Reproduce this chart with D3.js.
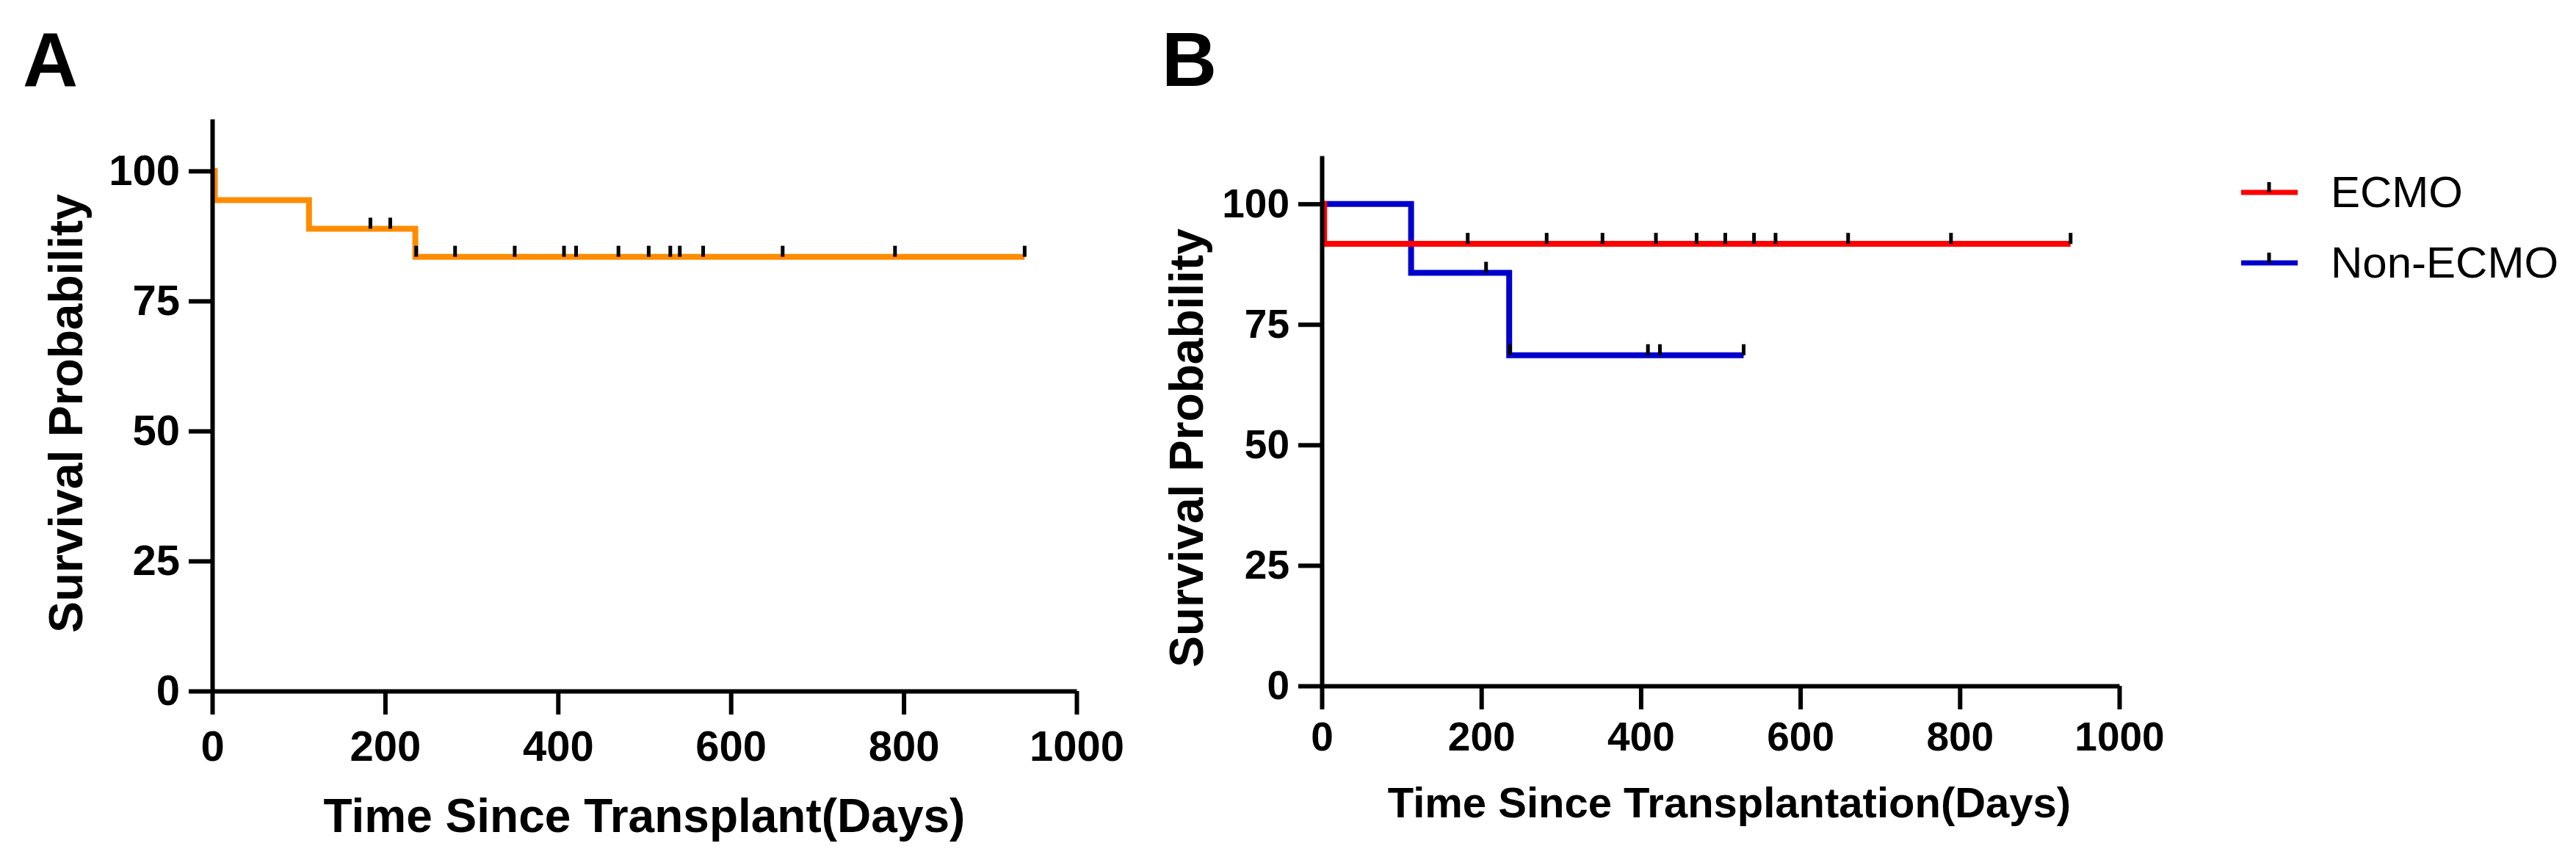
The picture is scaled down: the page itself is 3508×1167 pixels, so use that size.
<!DOCTYPE html>
<html>
<head>
<meta charset="utf-8">
<script src="https://cdn.jsdelivr.net/npm/d3@7"></script>
<style>
  body { margin: 0; background: #fff; }
  svg { display: block; }
</style>
</head>
<body>
<script>
// ---- data ----
var xTicks = [0, 200, 400, 600, 800, 1000]
var yTicks = [0, 25, 50, 75, 100]

// panel A: all patients
var timeA = [0, 3, 112, 235, 940]
var survA = [100, 94.4, 88.9, 83.5, 83.5]
var censorA = [183, 206, 236, 281, 350, 407, 421, 470, 505, 530, 541, 568, 660, 790, 940]

// panel B: ECMO vs Non-ECMO
var timeEcmo = [0, 3, 939]
var survEcmo = [100, 91.7, 91.7]
var censorEcmo = [183, 282, 352, 419, 470, 506, 542, 569, 660, 789, 939]

var timeNon = [0, 112, 235, 529]
var survNon = [100, 85.7, 68.6, 68.6]
var censorNon = [206, 236, 409, 424, 529]

var groups = ['ECMO', 'Non-ECMO']
var colors = ['#ff0000', '#0000cc']

var W = 3508, H = 1167
var font = '"Liberation Sans", Arial, sans-serif'

var svg = d3.select('body').append('svg')
    .attr('width', W)
    .attr('height', H)
    .style('background', '#fff')

// survival value at time t (step function)
var survAt = function (times, surv, t) {
    var v = surv[0]
    for (var i = 0; i < times.length; i++) {
        if (times[i] <= t) v = surv[i]
    }
    return v
}

var drawAxes = function (g, x, y, fs, padX) {
    var ax = g.append('g')
        .attr('transform', 'translate(0,' + y(0) + ')')
        .call(d3.axisBottom(x).tickValues(xTicks).tickFormat(d3.format('d'))
            .tickSize(32).tickSizeOuter(0).tickPadding(padX))
    var ay = g.append('g')
        .attr('transform', 'translate(' + x(0) + ',0)')
        .call(d3.axisLeft(y).tickValues(yTicks).tickFormat(d3.format('d'))
            .tickSize(32).tickSizeOuter(0).tickPadding(12))
    ;[ax, ay].forEach(function (a) {
        a.select('.domain').attr('stroke', '#000').attr('stroke-width', 6)
        a.selectAll('.tick line').attr('stroke', '#000').attr('stroke-width', 6)
        a.selectAll('.tick text')
            .attr('fill', '#000')
            .style('font-family', font)
            .style('font-weight', 'bold')
            .style('font-size', fs + 'px')
    })
}

var drawCurve = function (g, x, y, times, surv, censor, color) {
    var pts = times.map(function (t, i) { return [t, surv[i]] })
    var line = d3.line()
        .x(function (d) { return x(d[0]) })
        .y(function (d) { return y(d[1]) })
        .curve(d3.curveStepAfter)
    g.append('path')
        .attr('d', line(pts))
        .attr('fill', 'none')
        .attr('stroke', color)
        .attr('stroke-width', 8)
    g.selectAll(null).data(censor).enter().append('line')
        .attr('x1', function (d) { return x(d) })
        .attr('x2', function (d) { return x(d) })
        .attr('y1', function (d) { return y(survAt(times, surv, d)) - 15 })
        .attr('y2', function (d) { return y(survAt(times, surv, d)) })
        .attr('stroke', '#000')
        .attr('stroke-width', 5)
}

var addText = function (txt, x, y, size, weight, anchor, rot) {
    var t = svg.append('text')
        .text(txt)
        .attr('x', x)
        .attr('y', y)
        .attr('text-anchor', anchor)
        .style('font-family', font)
        .style('font-weight', weight)
        .style('font-size', size + 'px')
        .attr('fill', '#000')
    if (rot) t.attr('transform', 'rotate(-90,' + x + ',' + y + ')')
    return t
}

// ---- panel A ----
var xA = d3.scaleLinear().domain([0, 1000]).range([289, 1466])
var yA = d3.scaleLinear().domain([0, 110]).range([941, 162])
var gA = svg.append('g')
drawCurve(gA, xA, yA, timeA, survA, censorA, '#ff8c00')
drawAxes(gA, xA, yA, 58, 22)

addText('A', 31, 117, 104, 'bold', 'start')
addText('Time Since Transplant(Days)', (xA(0) + xA(1000)) / 2, 1133, 64, 'bold', 'middle')
addText('Survival Probability', 112, 563, 64, 'bold', 'middle', true)

// ---- panel B ----
var xB = d3.scaleLinear().domain([0, 1000]).range([1800, 2886])
var yB = d3.scaleLinear().domain([0, 110]).range([934, 212])
var gB = svg.append('g')
drawCurve(gB, xB, yB, timeNon, survNon, censorNon, colors[1])
drawCurve(gB, xB, yB, timeEcmo, survEcmo, censorEcmo, colors[0])
drawAxes(gB, xB, yB, 55, 17)

addText('B', 1582, 117, 104, 'bold', 'start')
addText('Time Since Transplantation(Days)', 2355, 1113, 58, 'bold', 'middle')
addText('Survival Probability', 1638, 610, 64, 'bold', 'middle', true)

// legend
var legY = [262, 358]
groups.forEach(function (name, i) {
    svg.append('line')
        .attr('x1', 3052).attr('x2', 3129)
        .attr('y1', legY[i]).attr('y2', legY[i])
        .attr('stroke', colors[i])
        .attr('stroke-width', 7)
    svg.append('line')
        .attr('x1', 3090).attr('x2', 3090)
        .attr('y1', legY[i] - 14).attr('y2', legY[i])
        .attr('stroke', '#000')
        .attr('stroke-width', 5)
    addText(name, 3174, legY[i] + 20, 60, 'normal', 'start')
})
</script>
</body>
</html>
